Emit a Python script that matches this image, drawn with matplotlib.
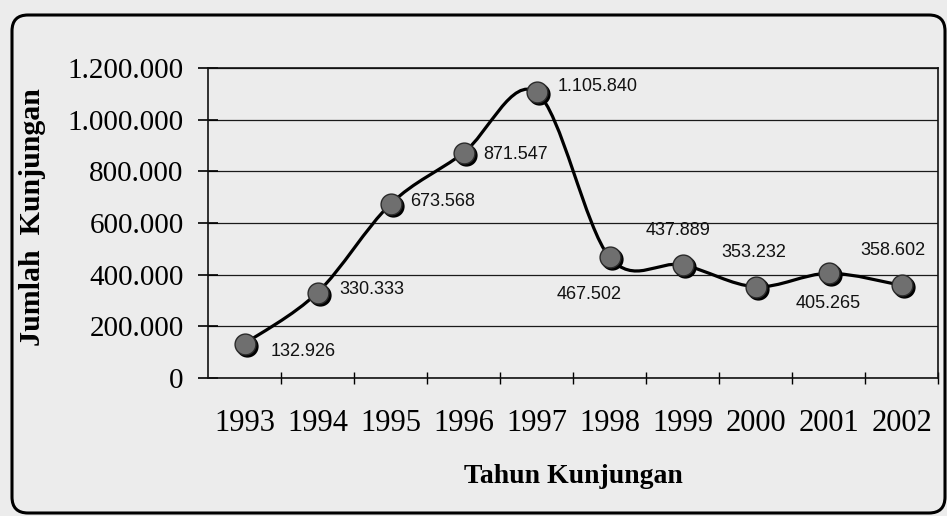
import matplotlib
matplotlib.use("Agg")
import matplotlib.pyplot as plt
import matplotlib.transforms as mtransforms
from matplotlib.path import Path
from matplotlib.patches import PathPatch, FancyBboxPatch
from matplotlib.ticker import FuncFormatter, FixedLocator
import numpy as np

years = ['1993', '1994', '1995', '1996', '1997', '1998', '1999', '2000', '2001', '2002']
visits = [132926, 330333, 673568, 871547, 1105840, 467502, 437889, 353232, 405265, 358602]
labels = ['132.926', '330.333', '673.568', '871.547', '1.105.840',
          '467.502', '437.889', '353.232', '405.265', '358.602']
# label placement (offset in points, horizontal alignment)
label_pos = [((19, -6), 'left'), ((16, 2), 'left'), ((14, 2), 'left'), ((14, -1), 'left'),
             ((15, 4), 'left'), ((-15, -27), 'center'), ((-3, 25), 'center'),
             ((-1, 25), 'center'), ((0, -22), 'center'), ((-6, 25), 'center')]

bg = '#ececec'
serif = ['Liberation Serif', 'DejaVu Serif']
sans = ['Liberation Sans', 'DejaVu Sans']

fig = plt.figure(figsize=(9.47, 5.16), dpi=100, facecolor=bg)
ax = fig.add_axes([208 / 947, 138 / 516, 730 / 947, 310 / 516])
ax.set_facecolor(bg)

x = np.arange(len(years))
y = np.array(visits, dtype=float)

# smoothed line like a spreadsheet "smooth line" (bezier through the points)
pts = np.column_stack([x, y])
ext = np.vstack([pts[0], pts, pts[-1]])
verts = [tuple(pts[0])]
codes = [Path.MOVETO]
for i in range(len(pts) - 1):
    p0, p1, p2, p3 = ext[i], ext[i + 1], ext[i + 2], ext[i + 3]
    c1 = p1 + (p2 - p0) / 6.0
    c2 = p2 - (p3 - p1) / 6.0
    verts += [tuple(c1), tuple(c2), tuple(p2)]
    codes += [Path.CURVE4] * 3
ax.add_patch(PathPatch(Path(verts, codes), facecolor='none', edgecolor='black',
                       lw=2.3, zorder=3))

# marker shadows then markers
shadow = ax.transData + mtransforms.ScaledTranslation(2 / 100, -2 / 100, fig.dpi_scale_trans)
ax.plot(x, y, 'o', ms=15, color='black', transform=shadow, zorder=4)
ax.plot(x, y, 'o', ms=15, mfc='#6f6f6f', mec='#2a2a2a', mew=1.0, zorder=5)

for xi, yi, txt, (off, ha) in zip(x, y, labels, label_pos):
    ax.annotate(txt, (xi, yi), xytext=off, textcoords='offset points', ha=ha, va='center',
                fontsize=13, family=sans, color='#111111', zorder=6)

ax.set_xlim(-0.5, len(years) - 0.5)
ax.set_ylim(0, 1200000)

ax.yaxis.set_major_locator(FixedLocator(np.arange(0, 1200001, 200000)))
ax.yaxis.set_major_formatter(FuncFormatter(lambda v, p: f"{v:,.0f}".replace(',', '.')))
ax.grid(axis='y', color='#1a1a1a', lw=0.9)
ax.set_axisbelow(True)

ax.set_xticks(x)
ax.set_xticklabels(years)
ax.set_xticks(np.arange(0.5, len(years) - 0.5 + 0.01, 1.0), minor=True)
ax.tick_params(axis='x', which='major', length=0, pad=22, labelsize=22)
ax.tick_params(axis='x', which='minor', length=8, direction='inout', width=1)
ax.tick_params(axis='y', length=15, direction='inout', width=1.2, pad=10, labelsize=21)
for lab in ax.get_xticklabels() + ax.get_yticklabels():
    lab.set_family(serif)

for s in ax.spines.values():
    s.set_color('#111111')
    s.set_linewidth(1.2)

ax.set_xlabel('Tahun Kunjungan', fontsize=20, fontweight='bold', family=serif, labelpad=19)
ax.set_ylabel('Jumlah  Kunjungan', fontsize=21.5, fontweight='bold', family=serif)
ax.yaxis.set_label_coords(-0.222, 0.52)

# rounded frame around the chart
frame = FancyBboxPatch((0.12, 0.03), 9.33, 4.98, boxstyle='round,pad=0,rounding_size=0.16',
                       transform=fig.dpi_scale_trans, facecolor='none', edgecolor='black',
                       lw=2.2, zorder=10)
fig.patches.append(frame)

fig.savefig('out.png', dpi=100, facecolor=bg)
